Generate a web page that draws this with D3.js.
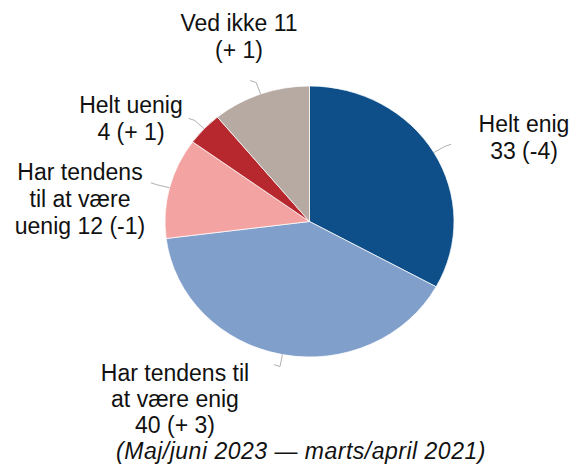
<!DOCTYPE html>
<html>
<head>
<meta charset="utf-8">
<script src="https://cdn.jsdelivr.net/npm/d3@7"></script>
<style>
  html, body { margin: 0; padding: 0; background: #fff; }
  svg { display: block; font-family: Arial, "Liberation Sans", sans-serif; }
</style>
</head>
<body>
<svg id="chart" width="579" height="468"></svg>
<script>
// Survey answers, share in percent (change vs. marts/april 2021)
const categories = ["Helt enig", "Har tendens til at være enig", "Har tendens til at være uenig", "Helt uenig", "Ved ikke"];
const values = [33, 40, 12, 4, 11];
const changes = ["-4", "+ 3", "-1", "+ 1", "+ 1"];
const labelLines = [
  ["Helt enig", "33 (-4)"],
  ["Har tendens til", "at være enig", "40 (+ 3)"],
  ["Har tendens", "til at være", "uenig 12 (-1)"],
  ["Helt uenig", "4 (+ 1)"],
  ["Ved ikke 11", "(+ 1)"]
];
const colors = ["#0e4f8a", "#809fcb", "#f3a3a1", "#b6282e", "#b7aaa3"];
const footnote = "(Maj/juni 2023 \u2014 marts/april 2021)";

(function () {
  const svg = d3.select("#chart");

  const cx = 309.5, cy = 221.5;
  const ry = 135.5, rx = 144.5;   // pie is slightly wider than tall
  const sx = rx / ry;

  // label anchors: centre x, first baseline y, line step
  const labelPos = [
    { x: 524, y: 132, h: 27 },
    { x: 175, y: 381, h: 26 },
    { x: 80, y: 180, h: 27 },
    { x: 131, y: 113, h: 27 },
    { x: 239, y: 31, h: 27 }
  ];

  const pie = d3.pie().sort(null).value((d) => d);
  const arcs = pie(values);
  const arc = d3.arc().innerRadius(0).outerRadius(ry);

  const pieG = svg.append("g")
    .attr("transform", `translate(${cx},${cy}) scale(${sx},1)`);

  pieG.selectAll("path.slice")
    .data(arcs)
    .join("path")
    .attr("class", "slice")
    .attr("d", arc)
    .attr("fill", (d, i) => colors[i])
    .attr("stroke", "#fff")
    .attr("stroke-width", 0.7);

  // leader lines from the middle of each slice's rim
  const pt = (a, k) => [cx + rx * k * Math.sin(a), cy - ry * k * Math.cos(a)];
  const leader = arcs.map((d, i) => {
    const a = (d.startAngle + d.endAngle) / 2;
    const p1 = pt(a, 1.0);
    const p2 = pt(a, 1.09);
    const dir = labelPos[i].x < cx ? -1 : 1;
    const p3 = [p2[0] + dir * 6, p2[1] - 2];
    return [p1, p2, p3];
  });

  svg.append("g")
    .selectAll("path")
    .data(leader)
    .join("path")
    .attr("d", (d) => d3.line()(d))
    .attr("fill", "none")
    .attr("stroke", "#b0b0b0")
    .attr("stroke-width", 1);

  // labels
  const labels = svg.append("g")
    .selectAll("text")
    .data(labelLines)
    .join("text")
    .attr("text-anchor", "middle")
    .attr("font-size", 23)
    .attr("fill", "#111");

  labels.selectAll("tspan")
    .data((d, i) => d.map((t) => ({ t, i })))
    .join("tspan")
    .attr("x", (d) => labelPos[d.i].x)
    .attr("y", (d, j) => labelPos[d.i].y + j * labelPos[d.i].h)
    .text((d) => d.t);

  svg.append("text")
    .attr("x", 301)
    .attr("y", 459)
    .attr("text-anchor", "middle")
    .attr("font-size", 23)
    .attr("letter-spacing", 0.5)
    .attr("font-style", "italic")
    .attr("fill", "#111")
    .text(footnote);
})();
</script>
</body>
</html>
